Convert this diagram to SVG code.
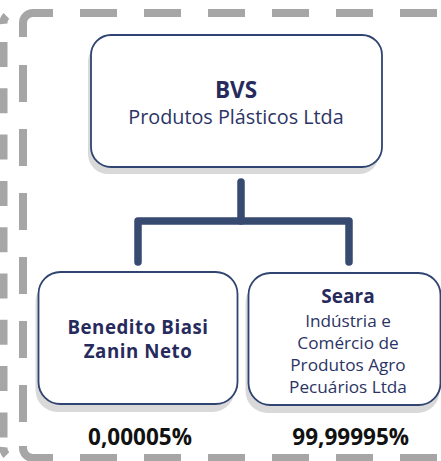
<svg xmlns="http://www.w3.org/2000/svg" width="441" height="461" viewBox="0 0 441 461">
<defs>
<style>
.frame{fill:none;stroke:#a6a6a6;stroke-width:8}
.dash{stroke-dasharray:37 27}
.odash{stroke-dasharray:25 21.3}
.shadow{fill:#d9d9d9}
.box{fill:#ffffff;stroke:#2f4470;stroke-width:1.8}
.conn{fill:none;stroke:#374a70;stroke-width:7.5;stroke-linecap:round;stroke-linejoin:round}
text{font-family:"Open Sans","Noto Sans","Liberation Sans",sans-serif;text-anchor:middle}
.b{font-weight:bold;fill:#262a5c}
.r{fill:#2b3464}
.pct{font-weight:bold;fill:#111111;font-size:22.5px}
</style>
</defs>
<rect width="441" height="461" fill="#ffffff"/>
<g id="frame-outer">
<line class="frame odash" x1="3.5" y1="42" x2="3.5" y2="438"/>
<path class="frame" d="M3.5,24 A10,10 0 0 1 6.4,15.9"/>
<path class="frame" d="M3.5,447 A10,10 0 0 0 6.4,455.1"/>
</g>
<g id="frame-inner">
<path class="frame" d="M53,13 H33 A10,10 0 0 0 23,23 V37"/>
<line class="frame dash" x1="80" y1="13" x2="470" y2="13"/>
<line class="frame dash" x1="23" y1="65" x2="23" y2="422"/>
<path class="frame" d="M23,446 V448 A10,10 0 0 0 33,458 H53"/>
<line class="frame dash" x1="80" y1="458" x2="470" y2="458"/>
</g>
<g id="connectors">
<path class="conn" d="M241,182 V221 H138 V262"/>
<path class="conn" d="M241,221 H349 V262"/>
</g>
<g id="node-bvs">
<rect class="shadow" x="88" y="42" width="291" height="132" rx="20"/>
<rect class="box" x="91" y="35" width="291" height="132" rx="20"/>
<text class="b" x="236" y="97.5" font-size="22.5">BVS</text>
<text class="r" x="236" y="124" font-size="19.8">Produtos Plásticos Ltda</text>
</g>
<g id="node-benedito">
<rect class="shadow" x="35.5" y="280" width="199" height="132" rx="22"/>
<rect class="box" x="38.5" y="272" width="199" height="132" rx="22"/>
<text class="b" x="138" y="334.3" font-size="18.7" letter-spacing="0.55">Benedito Biasi</text>
<text class="b" x="138" y="358.3" font-size="18.7" letter-spacing="0.55">Zanin Neto</text>
</g>
<g id="node-seara">
<rect class="shadow" x="245.5" y="281" width="194" height="132" rx="22"/>
<rect class="box" x="248.5" y="273" width="192" height="132" rx="22"/>
<text class="b" x="348" y="302.7" font-size="19">Seara</text>
<text class="r" x="348" y="326.7" font-size="17.2">Indústria e</text>
<text class="r" x="348" y="349" font-size="17.2">Comércio de</text>
<text class="r" x="348" y="370.7" font-size="17.2">Produtos Agro</text>
<text class="r" x="348" y="392.7" font-size="17.2">Pecuários Ltda</text>
</g>
<g id="labels">
<text class="pct" x="140" y="445">0,00005%</text>
<text class="pct" x="350.7" y="445">99,99995%</text>
</g>
</svg>
